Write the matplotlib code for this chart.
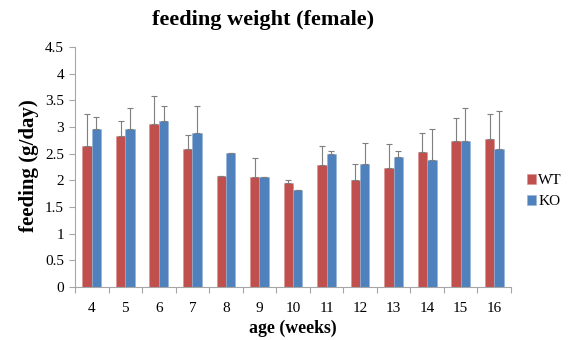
import matplotlib
matplotlib.use("Agg")
import matplotlib.pyplot as plt
import numpy as np

ages = ["4", "5", "6", "7", "8", "9", "10", "11", "12", "13", "14", "15", "16"]
wt_mean = [2.65, 2.84, 3.06, 2.59, 2.08, 2.07, 1.95, 2.29, 2.00, 2.23, 2.54, 2.73, 2.77]
wt_err = [0.59, 0.27, 0.53, 0.26, 0.01, 0.34, 0.06, 0.35, 0.31, 0.45, 0.35, 0.43, 0.47]
ko_mean = [2.96, 2.96, 3.11, 2.89, 2.51, 2.06, 1.81, 2.49, 2.30, 2.43, 2.39, 2.74, 2.59]
ko_err = [0.22, 0.39, 0.28, 0.50, 0.0, 0.0, 0.01, 0.06, 0.40, 0.12, 0.58, 0.62, 0.71]
y_ticks = [0, 0.5, 1, 1.5, 2, 2.5, 3, 3.5, 4, 4.5]

plt.rcParams["font.family"] = ["Liberation Serif", "DejaVu Serif"]

fig = plt.figure(figsize=(5.68, 3.40), dpi=100)
ax = fig.add_axes([75 / 568, 1 - 287 / 340, (511 - 75) / 568, (287 - 47) / 340])

x = np.arange(len(ages))
w = 0.28
red = "#C0504D"
blue = "#4F81BD"
err_kw = dict(ecolor="#7F7F7F", elinewidth=0.8, capsize=2.2, capthick=0.8)

ax.bar(x - w / 2, wt_mean, w, color=red, edgecolor="#D9908E", linewidth=0.4,
       yerr=[np.zeros(len(wt_err)), wt_err], error_kw=err_kw, label="WT")
ax.bar(x + w / 2, ko_mean, w, color=blue, edgecolor="#95B3D7", linewidth=0.4,
       yerr=[np.zeros(len(ko_err)), ko_err], error_kw=err_kw, label="KO")

ax.set_xlim(-0.5, len(ages) - 0.5)
ax.set_ylim(0, 4.5)
ax.set_yticks(y_ticks)
ax.set_yticklabels([f"{t:g}" for t in y_ticks], fontsize=11)
ax.set_xticks(x)
ax.set_xticklabels(ages, fontsize=11)
ax.set_xticks(np.arange(len(ages) + 1) - 0.5, minor=True)
ax.tick_params(axis="x", which="major", length=0, pad=11)
ax.tick_params(axis="x", which="minor", length=4, color="#A6A6A6", width=0.8)
ax.tick_params(axis="y", length=4, color="#A6A6A6", width=0.8, pad=4)

for side in ["top", "right"]:
    ax.spines[side].set_visible(False)
for side in ["left", "bottom"]:
    ax.spines[side].set_color("#A6A6A6")
    ax.spines[side].set_linewidth(0.8)

fig.text(263 / 568, 1 - 20 / 340, "feeding weight (female)",
         ha="center", va="center", fontsize=16, fontweight="bold")
fig.text(29 / 568, 1 - 166 / 340, "feeding (g/day)", rotation=90,
         ha="center", va="center", fontsize=15, fontweight="bold")
fig.text(293 / 568, 1 - 328 / 340, "age (weeks)",
         ha="center", va="center", fontsize=12.8, fontweight="bold")

leg = ax.legend(loc="center left", bbox_to_anchor=(519 / 568, 1 - 191 / 340),
                bbox_transform=fig.transFigure, frameon=False, fontsize=11,
                handlelength=0.6, handleheight=0.6, handletextpad=0.15,
                labelspacing=0.5, borderpad=0)

fig.savefig("out.png", dpi=100)
